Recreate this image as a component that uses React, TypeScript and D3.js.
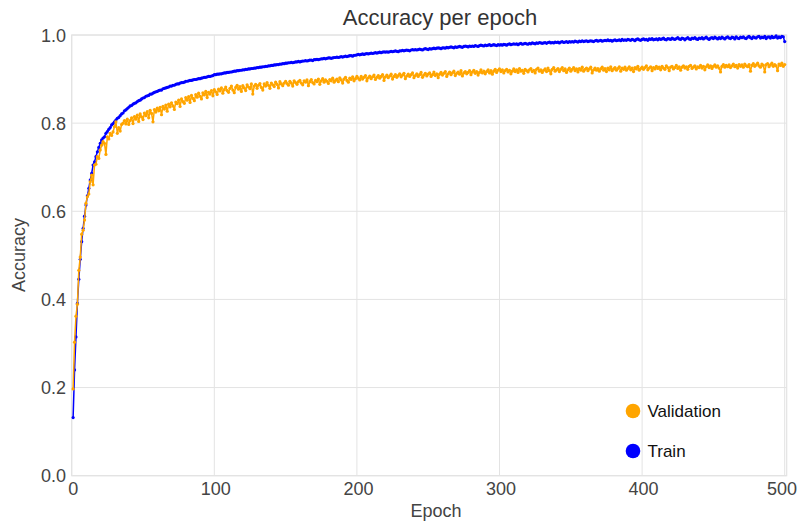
import React, { useEffect, useRef } from "react";
import * as d3 from "d3";

const title = "Accuracy per epoch";
const xTitle = "Epoch";
const yTitle = "Accuracy";
const xTicks = [0, 100, 200, 300, 400, 500];
const yTicks = [0, 0.2, 0.4, 0.6, 0.8, 1.0];
const seriesNames = ["Validation", "Train"];
const seriesColors = ["#ffa500", "#0000ff"];

// accuracy values, in thousandths, epoch 1..500
const trainAcc = [
132,240,315,391,446,491,531,561,589,614,
635,652,671,686,705,712,724,735,745,754,
762,766,769,777,781,786,790,796,799,803,
807,811,813,817,821,823,828,830,833,836,
839,840,843,845,846,849,851,852,855,857,
858,861,862,863,866,866,868,870,871,872,
874,875,875,878,879,880,881,882,884,884,
886,886,888,889,889,891,892,892,893,895,
895,896,897,897,898,899,899,900,901,901,
902,903,904,904,905,906,906,907,908,910,
910,911,911,912,912,913,914,914,915,915,
916,916,917,918,918,919,919,920,920,921,
921,922,922,923,923,924,924,925,925,926,
926,927,927,928,928,929,929,930,930,931,
931,932,932,933,933,934,934,935,935,936,
936,937,937,938,937,938,939,939,940,939,
940,941,941,942,941,942,943,943,942,944,
944,945,944,945,946,946,947,946,947,948,
948,947,948,949,949,950,949,950,951,950,
951,952,951,952,953,953,952,954,954,955,
956,955,956,957,956,957,958,957,958,959,
958,959,960,959,960,961,960,961,962,961,
962,961,962,963,962,963,964,963,962,964,
964,965,964,965,966,965,964,966,967,966,
967,966,967,968,967,966,968,969,968,967,
969,968,969,970,969,970,971,970,969,971,
971,970,972,971,972,973,972,971,973,972,
973,974,973,972,974,975,974,973,975,974,
975,974,976,975,974,976,977,976,975,977,
976,977,978,976,977,978,977,976,978,977,
978,977,979,978,977,979,980,978,979,980,
979,980,978,980,981,979,980,981,980,979,
981,980,982,981,980,982,981,983,982,981,
982,983,981,983,984,982,983,982,984,983,
984,982,984,985,983,984,985,983,985,984,
985,984,986,985,984,986,985,987,985,986,
987,985,986,987,986,985,987,988,986,987,
988,986,987,988,987,989,987,988,986,988,
989,987,988,989,987,990,988,989,988,990,
989,988,990,989,987,990,991,989,988,990,
991,989,990,988,991,990,992,989,990,991,
989,992,990,991,993,990,989,992,991,990,
993,991,990,992,994,991,990,993,992,989,
992,994,991,990,993,992,994,991,990,993,
992,994,991,993,995,992,990,993,994,992,
995,993,991,994,992,995,993,991,994,996,
993,992,995,994,991,996,993,992,995,994,
996,993,992,995,997,994,992,996,994,993,
996,997,993,995,994,997,992,995,996,993,
997,994,995,998,993,996,994,997,996,985,
];

const valAcc = [
197,303,362,389,466,496,548,557,580,618,
633,639,667,682,660,705,707,724,720,739,
750,758,754,729,769,764,777,772,780,792,
803,777,790,782,797,800,806,798,809,797,
806,812,799,815,809,818,804,821,814,808,
823,817,826,812,829,822,803,831,825,834,
828,836,819,838,832,841,827,843,837,846,
839,831,848,844,852,838,855,849,845,858,
852,860,847,863,856,851,865,859,868,861,
855,869,864,872,858,870,866,874,862,876,
871,865,877,873,880,868,876,882,874,870,
879,884,875,869,881,886,877,883,872,885,
880,874,887,882,878,889,866,884,888,879,
886,890,881,875,889,884,892,886,879,891,
887,883,893,888,880,894,889,885,891,895,
890,886,895,891,884,896,892,888,894,897,
891,887,896,893,898,885,894,899,892,889,
897,894,900,888,896,901,893,898,895,890,
899,896,902,893,897,900,894,903,898,891,
900,904,897,893,902,899,905,896,901,906,
902,898,906,900,904,908,896,903,907,901,
905,909,899,904,908,902,906,910,897,905,
909,903,907,911,900,906,910,904,908,912,
905,909,913,901,907,911,906,910,914,903,
908,912,906,910,915,904,909,913,907,911,
914,906,910,916,908,912,903,911,915,909,
913,917,906,912,916,910,914,918,908,913,
916,911,919,907,914,917,912,915,919,910,
916,920,913,917,909,915,921,914,918,912,
917,921,914,919,911,918,922,915,920,923,
917,921,914,919,922,916,920,912,918,923,
917,921,915,924,918,920,913,922,919,916,
921,924,917,920,914,922,925,918,921,915,
920,923,917,925,919,912,922,926,918,921,
924,917,922,926,919,923,915,921,925,918,
922,926,919,923,916,924,920,927,918,922,
925,919,923,927,914,921,925,920,924,918,
923,927,920,924,917,925,921,928,919,923,
926,920,924,928,918,925,922,927,920,924,
928,921,925,917,926,923,929,920,924,927,
922,926,930,921,925,928,919,926,923,929,
924,927,921,929,925,922,930,926,919,927,
929,923,926,931,924,928,920,927,930,925,
928,922,929,931,924,927,930,923,928,926,
931,925,929,921,928,932,926,930,924,929,
932,927,930,925,916,929,933,927,931,928,
932,926,930,934,928,931,925,933,929,932,
927,934,930,928,933,918,931,935,929,932,
936,930,927,934,931,916,933,935,928,932,
936,929,933,930,919,934,931,936,929,933,
];

const W = 799;
const H = 523;
const margin = { left: 71.7, right: 12.3, top: 35, bottom: 47.3 };

export default function App() {
  const ref = useRef<SVGSVGElement | null>(null);

  useEffect(() => {
    const svg = d3.select(ref.current);
    svg.selectAll("*").remove();
    const font = "'Liberation Sans', Arial, sans-serif";

    const x = d3.scaleLinear().domain([0, 501.4]).range([margin.left, W - margin.right]);
    const y = d3.scaleLinear().domain([0, 1]).range([H - margin.bottom, margin.top]);

    svg.append("rect").attr("width", W).attr("height", H).attr("fill", "#fff");

    const grid = svg.append("g");
    grid.selectAll("line.gx").data(xTicks).join("line")
      .attr("x1", (d) => x(d)).attr("x2", (d) => x(d))
      .attr("y1", y(0)).attr("y2", y(1))
      .attr("stroke", "#e3e3e3").attr("stroke-width", 1);
    grid.selectAll("line.gy").data(yTicks).join("line")
      .attr("x1", x(0)).attr("x2", x(501.4))
      .attr("y1", (d) => y(d)).attr("y2", (d) => y(d))
      .attr("stroke", "#e3e3e3").attr("stroke-width", 1);
    grid.append("rect")
      .attr("x", x(0)).attr("y", y(1))
      .attr("width", x(501.4) - x(0)).attr("height", y(0) - y(1))
      .attr("fill", "none").attr("stroke", "#e3e3e3").attr("stroke-width", 1.2);

    const series = [
      { name: "Train", color: seriesColors[1], values: trainAcc },
      { name: "Validation", color: seriesColors[0], values: valAcc },
    ];

    const line = d3.line<number>()
      .x((_, i) => x(i + 1))
      .y((d) => y(d / 1000));

    series.forEach((s) => {
      const g = svg.append("g");
      g.append("path")
        .attr("d", line(s.values) || "")
        .attr("fill", "none")
        .attr("stroke", s.color)
        .attr("stroke-width", 1.5)
        .attr("stroke-linejoin", "round");
      g.selectAll("circle").data(s.values).join("circle")
        .attr("cx", (_, i) => x(i + 1))
        .attr("cy", (d) => y(d / 1000))
        .attr("r", 1.6)
        .attr("fill", s.color);
    });

    // axes labels
    svg.selectAll("text.xt").data(xTicks).join("text")
      .attr("x", (d) => Math.min(x(d) + 1.5, 782))
      .attr("y", 495)
      .attr("text-anchor", "middle")
      .attr("font-family", font).attr("font-size", 18)
      .attr("fill", "#444")
      .text((d) => String(d));
    svg.selectAll("text.yt").data(yTicks).join("text")
      .attr("x", 66).attr("y", (d) => y(d) + 6.5)
      .attr("text-anchor", "end")
      .attr("font-family", font).attr("font-size", 18)
      .attr("fill", "#444")
      .text((d) => d.toFixed(1));

    svg.append("text")
      .attr("x", 440).attr("y", 25)
      .attr("text-anchor", "middle")
      .attr("font-family", font).attr("font-size", 22)
      .attr("fill", "#333")
      .text(title);
    svg.append("text")
      .attr("x", 436).attr("y", 517)
      .attr("text-anchor", "middle")
      .attr("font-family", font).attr("font-size", 18)
      .attr("fill", "#444")
      .text(xTitle);
    svg.append("text")
      .attr("transform", "translate(25,255) rotate(-90)")
      .attr("text-anchor", "middle")
      .attr("font-family", font).attr("font-size", 18)
      .attr("fill", "#444")
      .text(yTitle);

    // legend
    const lg = svg.append("g");
    seriesNames.forEach((n, i) => {
      const cy = 411 + i * 40;
      lg.append("circle").attr("cx", 633).attr("cy", cy).attr("r", 7.3).attr("fill", seriesColors[i]);
      lg.append("text")
        .attr("x", 647.5).attr("y", cy + 6)
        .attr("font-family", font).attr("font-size", 17)
        .attr("fill", "#111")
        .text(n);
    });
  }, []);

  return (
    <svg
      ref={ref}
      width={W}
      height={H}
      style={{ position: "absolute", left: 0, top: 0, display: "block" }}
    />
  );
}
